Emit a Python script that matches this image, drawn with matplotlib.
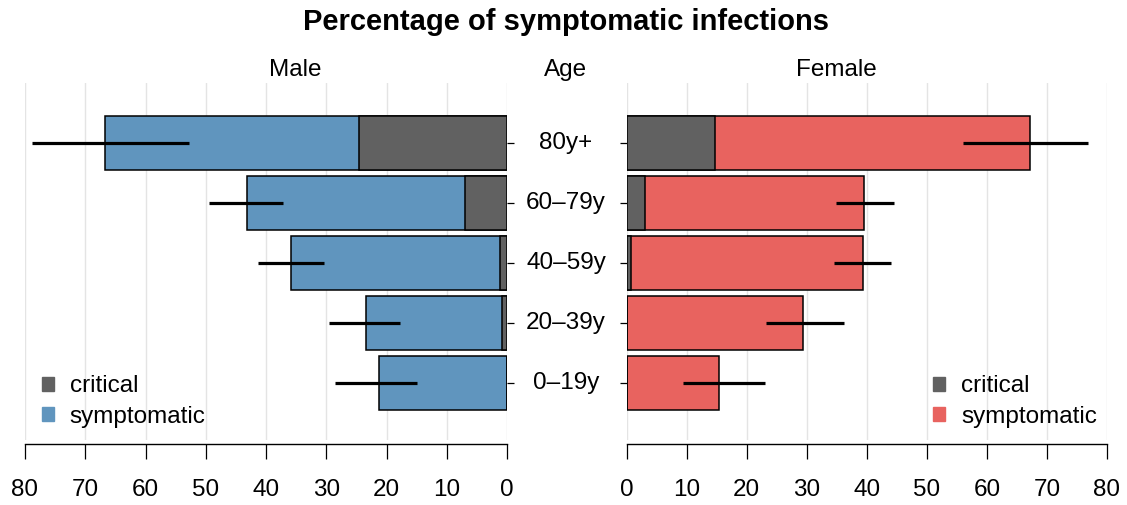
import numpy as np
import matplotlib
matplotlib.use('Agg')
import matplotlib.pyplot as plt
from matplotlib.patches import Patch
import matplotlib.transforms as mtransforms

plt.rcParams['font.family'] = ['Liberation Sans', 'DejaVu Sans']

ages = ['0\u201319y', '20\u201339y', '40\u201359y', '60\u201379y', '80y+']

male_symptomatic = [21.2, 23.4, 35.8, 43.2, 66.8]
male_critical = [0.0, 0.9, 1.2, 6.9, 24.6]
male_err_low = [14.9, 17.7, 30.4, 37.1, 52.8]
male_err_high = [28.6, 29.6, 41.3, 49.4, 78.8]

female_symptomatic = [15.4, 29.4, 39.3, 39.6, 67.1]
female_critical = [0.0, 0.0, 0.7, 3.05, 14.8]
female_err_low = [9.4, 23.3, 34.6, 34.8, 56.1]
female_err_high = [23.1, 36.2, 44.0, 44.5, 76.8]

BLUE = '#6095BE'
RED = '#E8635F'
GREY = '#616161'
FS = 17.5

W, H = 1127, 505
fig = plt.figure(figsize=(W / 100, H / 100), dpi=100)

bottom = (H - 440) / H
height = (440 - 83) / H
ax_m = fig.add_axes([25 / W, bottom, (507 - 25) / W, height])
ax_f = fig.add_axes([626.5 / W, bottom, (1107 - 626.5) / W, height])

y = np.arange(len(ages))


def draw_panel(ax, symptomatic, critical, err_low, err_high, color, left):
    ax.barh(y, symptomatic, height=0.9, color=color, edgecolor='black', linewidth=1.1, zorder=2)
    ax.barh(y, critical, height=0.9, color=GREY, edgecolor='black', linewidth=1.1, zorder=3)
    ax.hlines(y, err_low, err_high, color='black', linewidth=2.3, zorder=4)
    ax.set_ylim(-0.95, 5.0)
    ax.set_xticks(np.arange(0, 81, 10))
    ax.grid(axis='x', color='#E4E4E4', linewidth=1.0, zorder=0)
    ax.set_axisbelow(True)
    for s in ['top', 'left', 'right']:
        ax.spines[s].set_visible(False)
    ax.spines['bottom'].set_position(('outward', 3))
    ax.spines['bottom'].set_linewidth(1.0)
    ax.tick_params(axis='x', length=11, width=0.9, pad=14, labelsize=FS)
    ax.set_yticks(y)
    ax.set_yticklabels([])
    ax.legend(handles=[Patch(color=GREY, label='critical'),
                       Patch(color=color, label='symptomatic')],
              frameon=False, fontsize=FS, handlelength=0.5, handleheight=0.5,
              handletextpad=0.65, labelspacing=0.35, borderpad=0, borderaxespad=0,
              loc='lower left' if left else 'lower right',
              bbox_to_anchor=(0.035, 0.034) if left else (0.979, 0.034))


draw_panel(ax_m, male_symptomatic, male_critical, male_err_low, male_err_high, BLUE, True)
draw_panel(ax_f, female_symptomatic, female_critical, female_err_low, female_err_high, RED, False)

ax_m.set_xlim(80, 0)
ax_f.set_xlim(0, 80)
ax_m.yaxis.tick_right()
ax_m.tick_params(axis='y', length=5, width=0.9, direction='out')
ax_f.yaxis.tick_left()
ax_f.tick_params(axis='y', length=5, width=0.9, direction='out')

# age labels between the panels
trans = mtransforms.blended_transform_factory(fig.transFigure, ax_m.transData)
for yi, a in zip(y, ages):
    ax_m.text(566 / W, yi, a, transform=trans, ha='center', va='center', fontsize=FS)

fig.text(566 / W, 1 - 22 / H, 'Percentage of symptomatic infections',
         ha='center', va='center', fontsize=21, fontweight='bold')
fig.text(295 / W, 1 - 70 / H, 'Male', ha='center', va='center', fontsize=FS)
fig.text(566 / W, 1 - 70 / H, 'Age', ha='center', va='center', fontsize=FS)
fig.text(836 / W, 1 - 70 / H, 'Female', ha='center', va='center', fontsize=FS)

fig.savefig('out.png', dpi=100)
